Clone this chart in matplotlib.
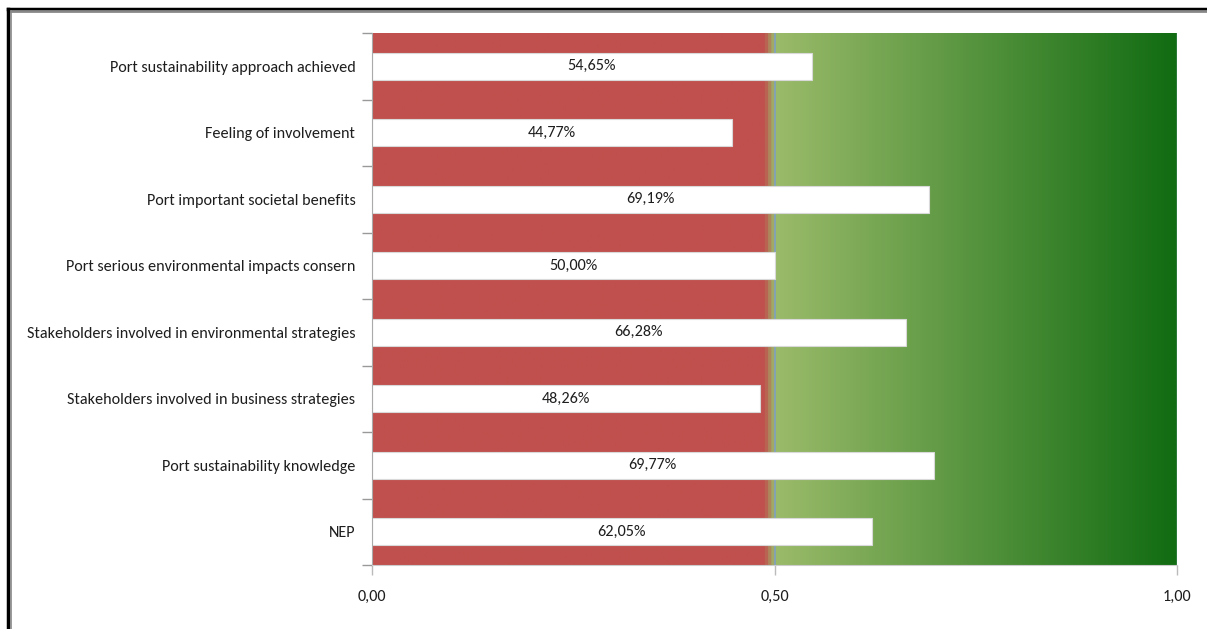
import numpy as np
import matplotlib.pyplot as plt
from matplotlib.colors import LinearSegmentedColormap
from matplotlib.lines import Line2D
from matplotlib import font_manager

categories = [
    "NEP",
    "Port sustainability knowledge",
    "Stakeholders involved in business strategies",
    "Stakeholders involved in environmental strategies",
    "Port serious environmental impacts consern",
    "Port important societal benefits",
    "Feeling of involvement",
    "Port sustainability approach achieved",
]
values = [0.6205, 0.6977, 0.4826, 0.6628, 0.5000, 0.6919, 0.4477, 0.5465]
xticks = [0.0, 0.5, 1.0]
xtick_labels = ["0,00", "0,50", "1,00"]

names = {f.name for f in font_manager.fontManager.ttflist}
family = next((f for f in ["Carlito", "Open Sans", "Lato"] if f in names), "DejaVu Sans")
plt.rcParams["font.family"] = [family, "DejaVu Sans"]
fs = 11.6
txt = "#1e1e1e"

fig = plt.figure(figsize=(12.07, 6.29), dpi=100)
ax = fig.add_axes([372 / 1207, 1 - 565 / 629, (1177 - 372) / 1207, (565 - 33) / 629])

# background: red band up to the midpoint, green ramp after it
cmap = LinearSegmentedColormap.from_list("band", [
    (0.0, "#c0504d"), (0.488, "#c0504d"), (0.5, "#9bbb6a"), (1.0, "#116c12")])
ramp = np.linspace(0, 1, 1000).reshape(1, -1)
n = len(categories)
ax.imshow(ramp, cmap=cmap, aspect="auto", extent=[0, 1, -0.5, n - 0.5],
          interpolation="bilinear", zorder=0)
ax.axvline(0.5, color="#7f9fbf", lw=1.2, zorder=1)
ax.axvline(1.0, color="#9fb8cf", lw=1.0, zorder=1)

y = np.arange(n)
ax.barh(y, values, height=0.4, color="white", edgecolor="#d9d9d9", lw=0.8, zorder=2)
for yi, v in zip(y, values):
    ax.text(v / 2, yi, f"{v * 100:.2f}%".replace(".", ","), ha="center", va="center",
            fontsize=fs, color=txt, zorder=3)

ax.set_xlim(0, 1)
ax.set_ylim(-0.5, n - 0.5)
ax.set_yticks(y)
ax.set_yticklabels(categories, fontsize=fs, color=txt)
ax.set_yticks(np.arange(n + 1) - 0.5, minor=True)
ax.tick_params(axis="y", which="major", length=0, pad=12)
ax.tick_params(axis="y", which="minor", length=7, color="#999999", width=1)
ax.set_xticks(xticks)
ax.set_xticklabels(xtick_labels, fontsize=fs, color=txt)
ax.tick_params(axis="x", length=7, color="#bbbbbb", width=1, pad=11)
for side in ["top", "right"]:
    ax.spines[side].set_visible(False)
ax.spines["left"].set_color("#aaaaaa")
ax.spines["bottom"].set_color("#cccccc")

# outer frame along top and left
W, H = 1207, 629
fig.add_artist(Line2D([7.5 / W, 1], [1 - 8.5 / H, 1 - 8.5 / H], color="black", lw=2.5))
fig.add_artist(Line2D([11 / W, 1], [1 - 11 / H, 1 - 11 / H], color="#888888", lw=2))
fig.add_artist(Line2D([7.5 / W, 7.5 / W], [0, 1 - 8.5 / H], color="black", lw=2.5))
fig.add_artist(Line2D([10.5 / W, 10.5 / W], [0, 1 - 11 / H], color="#888888", lw=1.2))

fig.savefig("out.png", dpi=100)
